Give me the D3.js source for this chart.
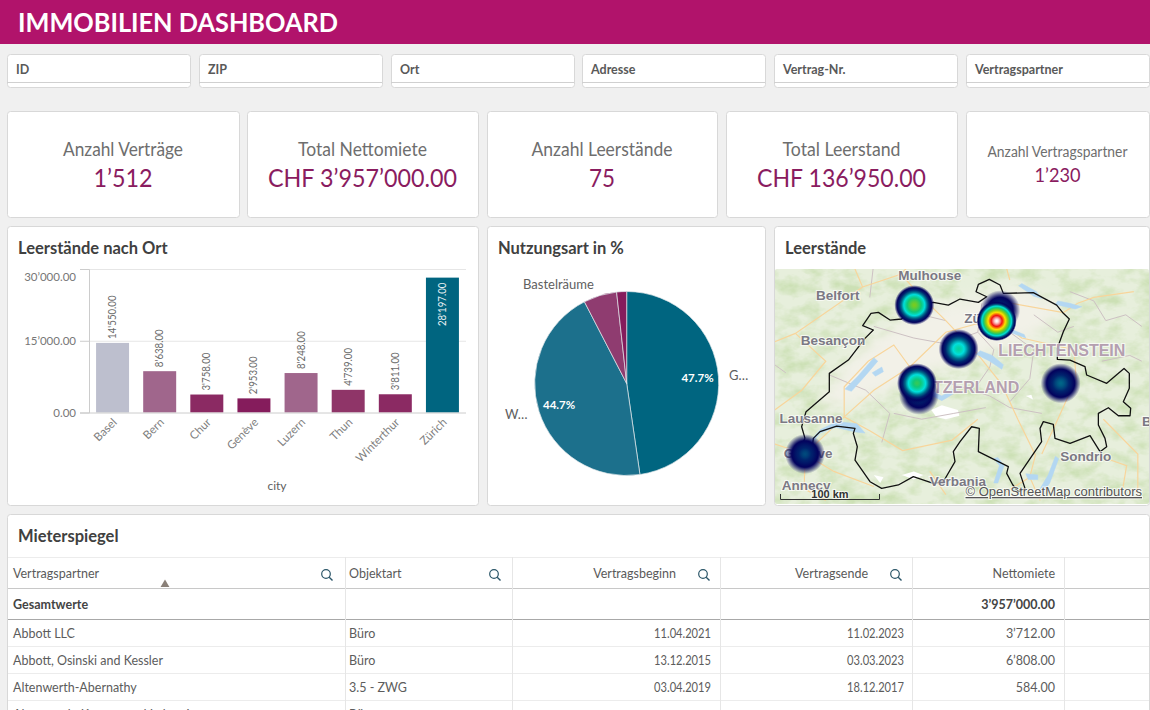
<!DOCTYPE html>
<html lang="de"><head><meta charset="utf-8"><title>Immobilien Dashboard</title>
<script src="https://cdn.jsdelivr.net/npm/d3@7/dist/d3.min.js"></script>
<style>html,body{margin:0;padding:0;background:#f0f0f0;overflow:hidden}svg{display:block}text{font-family:Lato,"Open Sans",sans-serif}</style>
</head><body><svg id="c" width="1150" height="710"></svg>
<script>
// ---------- data ----------
const dashTitle = "IMMOBILIEN DASHBOARD";
const filterLabels = ["ID","ZIP","Ort","Adresse","Vertrag-Nr.","Vertragspartner"];
const kpiLabels = ["Anzahl Verträge","Total Nettomiete","Anzahl Leerstände","Total Leerstand","Anzahl Vertragspartner"];
const kpiValues = ["1’512","CHF 3’957’000.00","75","CHF 136’950.00","1’230"];
const cities = ["Basel","Bern","Chur","Genève","Luzern","Thun","Winterthur","Zürich"];
const vacancy = [14550,8638,3758,2953,8248,4739,3811,28197];
const barColors = ["#bdbfce","#a0668c","#8b2a63","#851c5c","#a0668c","#8f3568","#8b2a63","#006580"];
const yTicks = [0,15000,30000];
const useTypes = ["Gewerbe","Wohnen","Bastelräume","Übrige"];
const useShares = [47.7,44.7,5.85,1.75];
const useColors = ["#006580","#1c708c","#8f3c70","#851c5c"];
// map
const heatOrder = ["Winterthur","Thun","Bern","Basel","Luzern","Chur","Genève","Zürich"];
const heatLon = [8.58,7.565,7.54,7.506,8.06,9.336,6.14,8.536];
const heatLat = [47.44,46.71,46.81,47.484,47.105,46.81,46.2,47.347];
const heatPeak = [0.23,0.23,0.5,0.58,0.42,0.27,0.24,1.0];
const border = [[6.14,46.335],[6.098,46.435],[6.153,46.565],[6.444,46.737],[6.444,46.895],[6.682,47.01],[6.89,47.197],[6.994,47.269],[6.861,47.306],[6.965,47.413],[7.057,47.421],[7.203,47.355],[7.348,47.364],[7.494,47.484],[7.744,47.507],[7.932,47.484],[8.078,47.536],[8.307,47.507],[8.411,47.556],[8.278,47.599],[8.307,47.662],[8.444,47.706],[8.578,47.657],[8.619,47.585],[8.994,47.591],[9.286,47.484],[9.369,47.413],[9.444,47.364],[9.369,47.254],[9.294,47.111],[9.294,47.016],[9.453,47.01],[9.64,46.953],[9.661,46.881],[9.911,46.809],[10.128,46.938],[10.194,46.895],[10.194,46.766],[10.119,46.651],[10.211,46.594],[10.203,46.53],[10.057,46.53],[9.932,46.599],[9.807,46.55],[9.807,46.45],[9.89,46.335],[9.911,46.263],[9.828,46.22],[9.703,46.358],[9.453,46.292],[9.265,46.335],[9.244,46.456],[9.119,46.479],[9.078,46.421],[9.098,46.306],[8.828,46.033],[8.89,45.904],[8.807,45.875],[8.736,45.935],[8.661,46.033],[8.682,46.091],[8.307,46.22],[8.319,46.421],[8.223,46.435],[8.078,46.306],[7.994,46.22],[8.015,46.134],[7.869,45.961],[7.744,45.947],[7.494,46.005],[7.307,45.933],[7.098,45.904],[6.953,45.961],[6.765,46.148],[6.794,46.263],[6.744,46.378],[6.765,46.421],[6.536,46.441],[6.328,46.393],[6.244,46.335],[6.223,46.22],[6.144,46.163],[6.057,46.22],[6.14,46.335]];
const lakes = [
 [[6.2,46.31],[6.33,46.41],[6.54,46.48],[6.79,46.46],[6.89,46.38],[6.77,46.39],[6.52,46.43],[6.33,46.38],[6.22,46.29]],
 [[6.64,46.76],[6.8,46.87],[7.0,47.03],[7.05,47.0],[6.9,46.88],[6.72,46.74]],
 [[6.98,46.9],[7.1,46.95],[7.12,46.91],[7.02,46.87]],
 [[8.81,47.65],[9.0,47.56],[9.1,47.54],[9.03,47.6],[8.85,47.67]],
 [[9.27,47.49],[9.52,47.45],[9.6,47.47],[9.45,47.5],[9.3,47.52]],
 [[8.53,47.35],[8.7,47.25],[8.9,47.2],[8.88,47.23],[8.7,47.28],[8.56,47.37]],
 [[8.28,47.06],[8.45,47.0],[8.6,46.93],[8.62,46.97],[8.48,47.05],[8.33,47.09]],
 [[7.65,46.73],[7.85,46.66],[8.05,46.74],[8.0,46.76],[7.85,46.7],[7.68,46.76]],
 [[8.55,46.17],[8.63,46.1],[8.55,45.95],[8.5,45.95],[8.57,46.1],[8.5,46.16]],
 [[9.27,46.18],[9.31,46.16],[9.2,45.95],[9.1,45.85],[9.06,45.88],[9.18,46.02]],
 [[8.9,46.03],[9.05,46.02],[9.05,45.98],[8.93,45.98]]
];
const plateau = [[6.3,46.6],[6.9,46.65],[7.5,46.85],[8.2,47.0],[9.0,47.2],[9.4,47.45],[8.8,47.65],[8.2,47.55],[7.6,47.45],[7.0,47.2],[6.6,46.95]];
const snow = [[[7.72,46.58],[7.85,46.62],[8.05,46.58],[8.07,46.53],[7.9,46.5],[7.78,46.52]],[[7.35,46.02],[7.5,46.05],[7.62,46.02],[7.5,45.98]],[[7.0,46.02],[7.12,46.0],[7.08,45.95]],[[8.9,46.7],[8.97,46.71],[8.99,46.67]]];
const roads = [
 [[6.14,46.2],[6.63,46.52],[7.0,46.75],[7.45,46.95],[7.9,47.25],[8.54,47.37],[8.72,47.5],[9.37,47.42],[9.55,47.5]],
 [[5.7,47.15],[6.02,47.24],[6.86,47.64],[7.34,47.75],[7.59,47.56],[7.9,47.35],[8.31,47.05],[8.6,46.8],[8.8,46.5],[9.02,46.19],[8.95,46.0],[9.08,45.8]],
 [[8.54,47.37],[8.85,47.2],[9.5,47.1],[9.53,46.85],[9.3,46.5],[9.1,46.2]],
 [[7.45,46.95],[7.63,46.76],[7.86,46.68],[8.1,46.75]],
 [[6.63,46.52],[6.95,46.4],[7.36,46.23],[7.98,46.32],[8.3,46.5]],
 [[7.45,46.95],[7.25,47.14],[6.93,47.0],[6.63,46.78],[6.63,46.52]],
 [[7.34,47.75],[7.6,47.95],[7.85,47.95]],[[6.14,46.2],[6.13,45.9],[6.4,45.8]],[[5.7,46.3],[6.14,46.2],[6.5,46.05],[7.0,45.92]],
 [[5.7,46.55],[6.1,46.75],[6.4,47.0],[6.02,47.24]],[[6.86,47.64],[6.7,47.9]],[[9.55,47.5],[9.75,47.55],[10.25,47.6]],
 [[8.7,47.7],[8.6,47.95]],[[9.87,46.5],[10.3,46.2],[10.3,45.85]],[[9.87,46.17],[10.16,46.1],[10.1,45.85]],[[7.7,46.05],[7.9,45.85]],[[8.95,46.0],[8.6,45.85]]
];
const admin = [
 [[6.45,46.88],[6.9,46.75],[7.2,46.55],[7.1,46.3]],[[7.0,47.3],[7.5,47.2],[7.9,47.15],[8.3,47.25],[8.35,47.5]],
 [[7.3,47.43],[7.6,47.4],[7.9,47.35]],[[7.6,46.85],[8.0,46.8],[8.45,46.7],[8.7,46.6]],[[7.25,46.55],[7.6,46.5],[8.0,46.55],[8.4,46.6]],
 [[8.7,47.25],[9.0,47.1],[8.95,46.85],[8.7,46.65]],[[9.0,47.4],[9.3,47.25],[9.5,47.3]],[[8.7,46.6],[9.1,46.55]],
 [[9.45,47.6],[9.75,47.52],[9.9,47.35],[10.15,47.4],[10.35,47.3]],[[9.85,47.0],[10.2,47.05],[10.35,47.0]],
 [[8.3,47.25],[8.5,47.1],[8.45,46.95],[8.3,46.8]],[[6.95,47.55],[7.0,47.85],[7.3,47.95]],[[5.9,46.9],[5.7,47.0]]
];
const placeNames = ["Mulhouse","Belfort","Besançon","Lausanne","Genève","Annecy","Zürich","Sondrio","Verbania","Bolzano"];
const placeLon = [7.70,6.55,6.49,6.215,6.178,6.153,8.39,9.65,8.05,10.68];
const placeLat = [47.70,47.53,47.14,46.467,46.165,45.89,47.33,46.14,45.924,46.44];
const countryNames = ["LIECHTENSTEIN","SWITZERLAND"];
const countryLon = [9.35,8.09];
const countryLat = [47.045,46.726];
// table
const tableCols = ["Vertragspartner","Objektart","Vertragsbeginn","Vertragsende","Nettomiete"];
const tenants = ["Abbott LLC","Abbott, Osinski and Kessler","Altenwerth-Abernathy","Altenwerth, Kautzer and Lubowitz"];
const objectTypes = ["Büro","Büro","3.5 - ZWG","Büro"];
const startDates = ["11.04.2021","13.12.2015","03.04.2019",""];
const endDates = ["11.02.2023","03.03.2023","18.12.2017",""];
const rents = [3712,6808,584,null];
const rentTotal = 3957000;

// ---------- helpers ----------
const svg = d3.select("#c");
const loc = d3.formatLocale({decimal:".",thousands:"’",grouping:[3],currency:["",""]});
const fmt = loc.format(",.2f");
const fmtBar = v => fmt(v).replace(/’/g,"'");
const defs = svg.append("defs");
function card(x,y,w,h){ return svg.append("rect").attr("x",x+.5).attr("y",y+.5).attr("width",w).attr("height",h).attr("rx",3).attr("fill","#fff").attr("stroke","#d8d8d8"); }
function label(sel,x,y,t,size,col,weight,anchor){ return sel.append("text").attr("x",x).attr("y",y).attr("font-size",size).attr("fill",col).attr("font-weight",weight||400).attr("text-anchor",anchor||"start").text(t); }
// narrow a text to a given pixel width (the reference face is narrower than the installed ones)
function fit(sel,w){ return sel.attr("textLength",w).attr("lengthAdjust","spacingAndGlyphs"); }
function squeeze(sel,r){ sel.each(function(){ const l=this.getComputedTextLength(); if(l>0) d3.select(this).attr("textLength",l*r).attr("lengthAdjust","spacingAndGlyphs"); }); return sel; }

// ---------- header ----------
svg.append("rect").attr("width",1150).attr("height",710).attr("fill","#f0f0f0");
svg.append("rect").attr("width",1150).attr("height",44).attr("fill","#b1136b");
fit(label(svg,18,32,dashTitle,27,"#fff",700),320);

// ---------- filters ----------
const filterX = d3.scaleLinear().domain([0,5]).range([7,966]);
filterLabels.forEach((t,i)=>{
  const x = Math.round(filterX(i));
  card(x,54,183,33);
  svg.append("line").attr("x1",x).attr("x2",x+183).attr("y1",82.5).attr("y2",82.5).attr("stroke","#d0d0d0");
  label(svg,x+9,74,t,12.5,"#595959",700);
});

// ---------- KPI ----------
const kpiX = [7,247,487,726,966], kpiW = [232,231,230,231,183];
const kpiLabelW = [120,129,141,118,140], kpiValueW = [59,189,26,169,46];
kpiLabels.forEach((t,i)=>{
  card(kpiX[i],111,kpiW[i],106);
  const cx = kpiX[i]+kpiW[i]/2, small = i===4;
  fit(label(svg,cx,small?157:156,t,small?14.5:18.5,"#6e6e6e",400,"middle"),kpiLabelW[i]);
  fit(label(svg,cx,small?182:187,kpiValues[i],small?19:25.5,"#8a1c5f",400,"middle"),kpiValueW[i]);
});

// ---------- bar chart ----------
card(7,226,471,279);
label(svg,18,254,"Leerstände nach Ort",16.5,"#404040",700);
const x = d3.scaleBand().domain(cities).range([89,466]).paddingInner(.3).paddingOuter(.15);
const y = d3.scaleLinear().domain([0,30000]).range([412.5,269]);
const gGrid = svg.append("g");
gGrid.selectAll("line").data(yTicks.slice(1)).join("line").attr("x1",89).attr("x2",466).attr("y1",d=>y(d)+.5).attr("y2",d=>y(d)+.5).attr("stroke","#e6e6e6");
const yAxis = svg.append("g").attr("transform","translate(89,0)").call(d3.axisLeft(y).tickValues(yTicks).tickSize(9).tickPadding(4).tickFormat(fmt));
yAxis.select(".domain").attr("stroke","#ccc");
yAxis.selectAll(".tick line").attr("stroke","#ccc");
yAxis.selectAll("text").attr("font-size",11.5).attr("fill","#777").attr("font-family","Lato").attr("dy",d=>d===30000?"1em":"0.32em");
svg.append("g").selectAll("rect").data(cities).join("rect").attr("x",d=>x(d)).attr("width",x.bandwidth())
  .attr("y",(d,i)=>y(vacancy[i])).attr("height",(d,i)=>y(0)-y(vacancy[i])).attr("fill",(d,i)=>barColors[i]);
svg.append("line").attr("x1",89).attr("x2",466).attr("y1",413).attr("y2",413).attr("stroke","#ccc");
squeeze(svg.append("g").selectAll("text").data(cities).join("text")
  .attr("transform",(d,i)=>{const inside=vacancy[i]>25000;const cx=x(d)+x.bandwidth()/2+3.5;const yy=y(vacancy[i])+(inside?5:-4);return `translate(${cx},${yy}) rotate(-90)`;})
  .attr("text-anchor",(d,i)=>vacancy[i]>25000?"end":"start").attr("font-size",10.5).attr("fill",(d,i)=>vacancy[i]>25000?"#e8f0f3":"#6a6a6a").text((d,i)=>fmtBar(vacancy[i])),.92);
svg.append("g").selectAll("text").data(cities).join("text")
  .attr("transform",d=>`translate(${x(d)+x.bandwidth()/2+5},${423}) rotate(-45)`).attr("text-anchor","end")
  .attr("font-size",11.5).attr("fill","#808080").text(d=>d);
label(svg,277,490,"city",12,"#606060",400,"middle");

// ---------- pie ----------
card(487,226,278,279);
label(svg,498,254,"Nutzungsart in %",16.5,"#404040",700);
const pie = d3.pie().sort(null).value(d=>d)(useShares);
const arc = d3.arc().innerRadius(0).outerRadius(92);
const gp = svg.append("g").attr("transform","translate(626.7,383.5)");
gp.selectAll("path").data(pie).join("path").attr("d",arc).attr("fill",(d,i)=>useColors[i]).attr("stroke","#dfe6ea").attr("stroke-width",.7);
const labelArc = d3.arc().innerRadius(71).outerRadius(71);
gp.selectAll("text").data(pie.slice(0,2)).join("text").attr("transform",d=>{const c=labelArc.centroid(d);return `translate(${c[0]},${c[1]})`;})
  .attr("text-anchor","middle").attr("dy",".35em").attr("font-size",11.5).attr("font-weight",700).attr("fill","#fff").text((d,i)=>useShares[i].toFixed(1)+"%");
label(svg,729,380,useTypes[0][0]+"…",13,"#606060");
label(svg,505,419,useTypes[1][0]+"…",13,"#606060");
label(svg,523,289,useTypes[2],13,"#606060");

// ---------- map ----------
card(774,226,375,279);
label(svg,785,254,"Leerstände",16.5,"#404040",700);
const lonS = d3.scaleLinear().domain([6.14,8.54]).range([805,997]);
const latS = d3.scaleLinear().domain([46.2,47.37]).range([454,318.3]);
const geo = d3.line().x(d=>lonS(d[0])).y(d=>latS(d[1]));
const clip = defs.append("clipPath").attr("id","mapclip");
clip.append("rect").attr("x",775).attr("y",269).attr("width",374).attr("height",235).attr("rx",2);
const terr = defs.append("filter").attr("id","terrain").attr("filterUnits","userSpaceOnUse").attr("x",775).attr("y",269).attr("width",374).attr("height",235).attr("color-interpolation-filters","sRGB");
terr.append("feTurbulence").attr("type","fractalNoise").attr("baseFrequency","0.05 0.075").attr("numOctaves",4).attr("seed",11);
terr.append("feColorMatrix").attr("type","matrix").attr("values","0 0 0 0 0.80  0 0 0 0 0.88  0 0 0 0 0.71  2.2 0 0 0 -0.85");
defs.append("filter").attr("id","soft").append("feGaussianBlur").attr("stdDeviation",7);
defs.append("filter").attr("id","soft1").append("feGaussianBlur").attr("stdDeviation",.7);
const m = svg.append("g").attr("clip-path","url(#mapclip)");
m.append("rect").attr("x",775).attr("y",269).attr("width",374).attr("height",235).attr("fill","#e7efdc");
m.append("rect").attr("x",775).attr("y",269).attr("width",374).attr("height",235).attr("filter","url(#terrain)");
m.append("path").attr("d",geo(plateau)+"Z").attr("fill","#f2f1e8").attr("filter","url(#soft)");
m.append("g").selectAll("path").data(snow).join("path").attr("d",d=>geo(d)+"Z").attr("fill","#fff").attr("filter","url(#soft1)");
m.append("g").selectAll("path").data(admin).join("path").attr("d",geo).attr("fill","none").attr("stroke","#cdc1c3").attr("stroke-width",1);
m.append("g").selectAll("path").data(roads).join("path").attr("d",geo).attr("fill","none").attr("stroke","#f8d59b").attr("stroke-width",1.2);
m.append("g").selectAll("path").data(lakes).join("path").attr("d",d=>geo(d)+"Z").attr("fill","#b3d7f2").attr("stroke","#b3d7f2").attr("stroke-width",.5);
m.append("path").attr("d",geo(border)).attr("fill","none").attr("stroke","#111").attr("stroke-width",1.3).attr("stroke-linejoin","round");
const halo = s => s.attr("paint-order","stroke").attr("stroke","#fff").attr("stroke-opacity",.7).attr("stroke-width",2).style("font-family","'Liberation Sans',Arial,sans-serif");
placeNames.forEach((t,i)=>{
  halo(label(m,lonS(placeLon[i]),latS(placeLat[i]),t,13.5,"#7b7884",700,"middle"));
});
countryNames.forEach((t,i)=>{
  halo(label(m,lonS(countryLon[i]),latS(countryLat[i]),t,16,"#b49fb0",700,"middle"));
});
// heat spots
const ramp = d3.scaleLinear().domain([0,.12,.2,.28,.36,.46,.6,.72,.86,1])
  .range(["#03045e","#03045e","#00246e","#00708c","#00e0dc","#10c878","#8ccc10","#ffe000","#f01010","#ffffff"]).interpolate(d3.interpolateRgb);
const alpha = d3.scaleLinear().domain([0,.11,1]).range([0,1,1]).clamp(true);
heatOrder.forEach((c,i)=>{
  const g = defs.append("radialGradient").attr("id","h"+i);
  d3.range(0,41).forEach(k=>{
    const t=k/40, I=heatPeak[i]*(1-Math.pow(t,1.5));
    g.append("stop").attr("offset",t).attr("stop-color",ramp(I)).attr("stop-opacity",alpha(I));
  });
  m.append("circle").attr("cx",lonS(heatLon[i])).attr("cy",latS(heatLat[i])).attr("r",20).attr("fill",`url(#h${i})`);
});
// scale bar + attribution
const kmS = d3.scaleLinear().domain([0,100]).range([780.5,879.5]);
m.append("path").attr("d",`M${kmS(0)},494V499.5H${kmS(100)}V494`).attr("fill","none").attr("stroke","#333").attr("stroke-width",1);
halo(label(m,kmS(50),498,"100 km",11,"#333",700,"middle"));
const at = label(m,1142,496,"© OpenStreetMap contributors",13,"#555",400,"end");
halo(at).attr("text-decoration","underline");

// ---------- table ----------
card(7,514,1142,220);
label(svg,18,542,"Mieterspiegel",16.5,"#404040",700);
const colEdges = [345,512,720,912,1064];
const rowLines = [557,588,619,646,673,700];
svg.append("g").selectAll("line").data(rowLines).join("line").attr("x1",8).attr("x2",1149).attr("y1",d=>d+.5).attr("y2",d=>d+.5)
  .attr("stroke",(d,i)=>i===1?"#c8c8c8":i===2?"#a8a8a8":"#ececec");
svg.append("g").selectAll("line").data(colEdges).join("line").attr("x1",d=>d+.5).attr("x2",d=>d+.5).attr("y1",557).attr("y2",710).attr("stroke","#e6e6e6");
const headX = [13,349,676,868,1055], headA = ["start","start","end","end","end"];
tableCols.forEach((t,i)=>label(svg,headX[i],578,t,12.5,"#5a5a5a",400,headA[i]));
const iconX = [326,494,703,895];
const icons = svg.append("g").selectAll("g").data(iconX).join("g").attr("transform",d=>`translate(${d},574)`);
icons.append("circle").attr("r",4.3).attr("fill","none").attr("stroke","#2a5568").attr("stroke-width",1.2);
icons.append("line").attr("x1",3.2).attr("y1",3.2).attr("x2",6.5).attr("y2",6.5).attr("stroke","#2a5568").attr("stroke-width",1.4);
svg.append("path").attr("d",d3.symbol(d3.symbolTriangle,34)()).attr("transform","translate(165,584.5)").attr("fill","#8a8078");
label(svg,13,609,"Gesamtwerte",12.5,"#444",700);
label(svg,1055,609,fmt(rentTotal),12.5,"#444",700,"end");
const rowY = d3.scaleLinear().domain([0,1]).range([637.5,664.5]);
tenants.forEach((t,i)=>{
  const yy = rowY(i);
  label(svg,13,yy,t,12.5,"#5c5c5c");
  label(svg,349,yy,objectTypes[i],12.5,"#5c5c5c");
  squeeze(label(svg,711,yy,startDates[i],12.5,"#5c5c5c",400,"end"),.89);
  squeeze(label(svg,904,yy,endDates[i],12.5,"#5c5c5c",400,"end"),.89);
  if(rents[i]!==null) label(svg,1055,yy,fmt(rents[i]),12.5,"#5c5c5c",400,"end");
});
</script></body></html>
